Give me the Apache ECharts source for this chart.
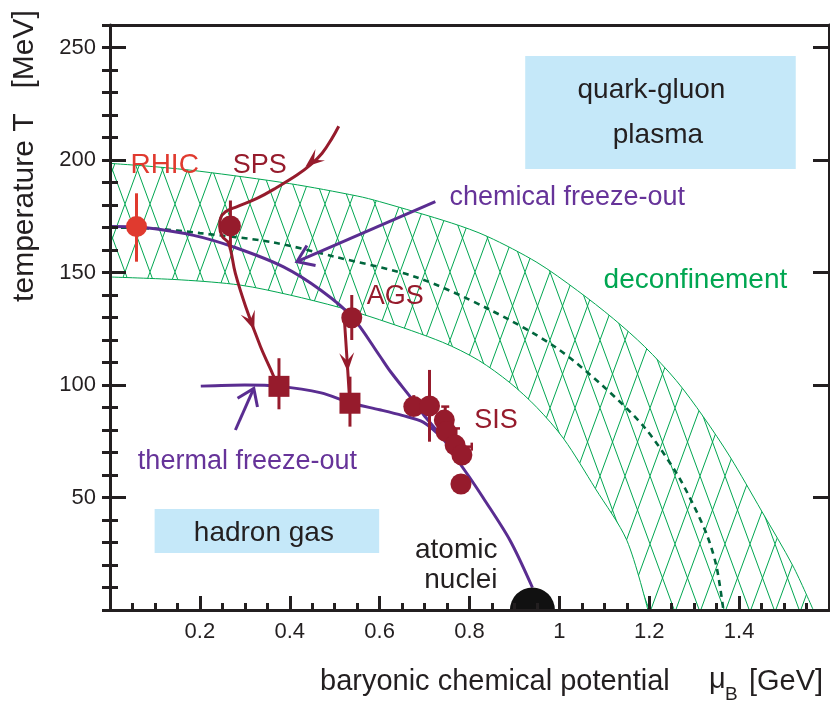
<!DOCTYPE html>
<html><head><meta charset="utf-8">
<script src="https://cdn.jsdelivr.net/npm/echarts@6/dist/echarts.min.js"></script>
<style>html,body{margin:0;padding:0;background:#fff}#c{width:830px;height:702px}</style>
</head><body><div id="c"></div>
<script>
// ---------------- data (mu_B in GeV, T in MeV) ----------------
const upperBoundary = [[0,198.5],[0.1,197],[0.2,195],[0.4,189.5],[0.55,184],[0.6,181.5],[0.76,172],[0.84,166],[0.95,154.5],[1.04,142],[1.12,129.5],[1.19,117],[1.26,102],[1.32,86],[1.38,68],[1.45,44],[1.52,19.5],[1.565,0]];
const lowerBoundary = [[0,148],[0.16,146.7],[0.29,144.4],[0.4,140],[0.51,134.5],[0.6,129],[0.74,119],[0.82,111],[0.89,101],[0.95,90],[1.01,76],[1.08,54],[1.15,31],[1.197,0]];
const deconfinementLine = [[0,170],[0.1,169.5],[0.2,167.5],[0.36,163.5],[0.5,157],[0.68,148],[0.84,134],[0.99,117],[1.1,99],[1.19,81],[1.26,61],[1.3,46],[1.33,32.5],[1.35,19],[1.365,0]];
const chemicalFreezeOut = [[0,170.5],[0.075,170],[0.186,166.5],[0.28,161],[0.386,152.5],[0.47,142],[0.54,130],[0.6,113],[0.624,106],[0.675,93],[0.697,87],[0.742,76],[0.772,67],[0.8,59],[0.83,50],[0.89,31],[0.94,10]];
const thermalFreezeOut = [[0.202,99.5],[0.3,100],[0.375,99.5],[0.47,96.5],[0.535,92],[0.6,89],[0.65,86.5],[0.697,83.5],[0.742,76]];
const spsTrajectory = [[0.509,215],[0.494,209.6],[0.472,203],[0.446,197.8],[0.416,193.3],[0.372,187.9],[0.327,182.9],[0.283,179.3],[0.257,177],[0.246,174.1],[0.244,170.4],[0.25,166],[0.264,163],[0.279,149.6],[0.302,134.8],[0.335,117],[0.358,106.7],[0.372,100]];
const agsTrajectory = [[0.5216,129],[0.5276,111],[0.533,94]];
const chemArrow = [[0.724,181.5],[0.416,154.8]];
const thermArrow = [[0.279,80],[0.32,98.5]];
// arrowheads: [tipMu, tipT, fromMu, fromT, kind]  kind 0 = filled (trajectory), 1 = open (label pointer)
const arrowHeads = [[0.435,197,0.472,203,0],[0.321,124.4,0.302,134.8,0],[0.529,105.9,0.524,125,0],[0.416,154.8,0.724,181.5,1],[0.32,98.5,0.279,80,1]];
const rhicPoint = [[0.059,170.4]];
const chemPoints = [[0.268,170.7],[0.538,129.9],[0.676,90.4],[0.711,90.7],[0.744,84.4],[0.748,79.3],[0.768,73.3],[0.783,68.9],[0.781,56]];
const thermalPoints = [[0.376,99.4],[0.534,91.9]];
const rhicErr = [[0.059,154.8,185.2]];
const errBars = [[0.268,160,182],[0.538,120,140],[0.376,89.2,111.9],[0.534,81.5,103.7],[0.711,74.8,106.7],[0.676,90.4,95.5],[0.746,84,90.4],[0.77,73,80.7]];
const errCaps = [[0.746,90.4],[0.77,80.7]];
const hErrBars = [[0.768,0.805,72.6]];
const nucleus = [[0.94,0]];
const regionBoxes = [[0.924,196,1.526,246.2],[0.0993,25.3,0.599,44.9]];
const labelTexts = ['RHIC','SPS','AGS','SIS','chemical freeze-out','thermal freeze-out','deconfinement','quark-gluon','plasma','hadron gas','atomic','nuclei'];
const labelAnchors = [[0.1216,197.7],[0.333,197.7],[0.635,139.2],[0.859,84.4],[1.0176,183.5],[0.3058,66.1],[1.3027,146.6],[1.2049,231],[1.2193,211],[0.3424,34.3],[0.8622,26.6],[0.8622,13.2]];
const xTickValues = [0.2,0.4,0.6,0.8,1,1.2,1.4];
const yTickValues = [50,100,150,200,250];

// ---------------- styles ----------------
const FONT = "'Liberation Sans', Arial, Helvetica, sans-serif";
const INK = '#231f20', DARKRED = '#961b2c', RED = '#e03a2f', PURPLE = '#5a2d91', PURPLE_TXT = '#663399', GREEN = '#00a651', DKGREEN = '#00663d', BLUE = '#c5e8f9';
const labelStyle = [
  [RED,28,'center'],[DARKRED,27,'center'],[DARKRED,27,'center'],[DARKRED,27,'center'],
  [PURPLE_TXT,27,'center'],[PURPLE_TXT,27,'center'],[GREEN,28,'center'],
  [INK,28,'center'],[INK,28,'center'],[INK,28,'center'],[INK,28,'right'],[INK,28,'right']];

function makeHatch(){
  const c = document.createElement('canvas'); c.width = 25; c.height = 68;
  const g = c.getContext('2d'); g.strokeStyle = GREEN; g.lineWidth = 1;
  g.beginPath(); g.moveTo(-25,-68); g.lineTo(50,136); g.moveTo(50,-68); g.lineTo(-25,136); g.stroke();
  return c;
}

const chart = echarts.init(document.getElementById('c'), null, {renderer:'canvas'});

function axisBase(extra){
  return Object.assign({type:'value', z:20, splitLine:{show:false},
    axisLine:{show:true, onZero:false, lineStyle:{color:INK, width:3}}}, extra);
}
const tickLine = {color:INK, width:3};

function lineSeries(data, color, width, z, extra){
  return Object.assign({type:'line', data:data, symbol:'none', showSymbol:false, smooth:0.3, silent:true,
    lineStyle:{color:color, width:width}, z:z, animation:false}, extra||{});
}

const option = {
  animation:false,
  grid:{left:110, top:25, right:1, bottom:92, outerBoundsMode:'none', containLabel:false},
  xAxis:[
    axisBase({position:'bottom', min:0, max:1.6, interval:0.2,
      axisTick:{show:true, inside:true, length:14, lineStyle:tickLine},
      minorTick:{show:true, splitNumber:4, length:7, lineStyle:tickLine},
      axisLabel:{show:true, margin:11, fontSize:22, fontFamily:FONT, color:INK,
        formatter:function(v){ const r=Math.round(v*10)/10; return xTickValues.indexOf(r)>=0 ? String(r) : ''; }}}),
    axisBase({position:'top', min:0, max:1.6, axisTick:{show:false}, axisLabel:{show:false}})
  ],
  yAxis:[
    axisBase({position:'left', min:0, max:260, interval:50,
      axisTick:{show:true, inside:true, length:16, lineStyle:tickLine},
      axisLabel:{show:true, margin:14, fontSize:22, fontFamily:FONT, color:INK,
        formatter:function(v){ return yTickValues.indexOf(Math.round(v))>=0 ? String(Math.round(v)) : ''; }}}),
    axisBase({position:'left', offset:0, min:0, max:260, interval:10, axisLine:{show:false},
      axisTick:{show:true, inside:true, length:8, lineStyle:tickLine}, axisLabel:{show:false}}),
    axisBase({position:'right', offset:0, min:0, max:260, interval:50,
      axisTick:{show:true, inside:true, length:16, lineStyle:tickLine}, axisLabel:{show:false}}),
    axisBase({position:'right', offset:0, min:0, max:260, interval:10, axisLine:{show:false},
      axisTick:{show:true, inside:true, length:8, lineStyle:tickLine}, axisLabel:{show:false}})
  ],
  graphic:[
    {type:'text', x:25, y:156, rotation:Math.PI/2, z:30,
      style:{text:'temperature T   [MeV]', font:'30px '+FONT, fill:INK, align:'center', verticalAlign:'middle'}},
    {type:'text', x:320, y:681.6, z:30,
      style:{text:'baryonic chemical potential', font:'29px '+FONT, fill:INK, align:'left', verticalAlign:'middle'}},
    {type:'text', x:709, y:680, z:30,
      style:{text:'\u03bc', font:'29px '+FONT, fill:INK, align:'left', verticalAlign:'middle'}},
    {type:'text', x:725, y:695, z:30,
      style:{text:'B', font:'19px '+FONT, fill:INK, align:'left', verticalAlign:'middle'}},
    {type:'text', x:749, y:681.6, z:30,
      style:{text:'[GeV]', font:'29px '+FONT, fill:INK, align:'left', verticalAlign:'middle'}}
  ],
  series:[
    // hatched deconfinement band: hatch down to axis from upper boundary, white mask below lower boundary
    lineSeries(upperBoundary, GREEN, 1, 2, {areaStyle:{color:{image:makeHatch(), repeat:'repeat'}, opacity:1}}),
    lineSeries(lowerBoundary, GREEN, 1, 3, {areaStyle:{color:'#ffffff', opacity:1}}),
    lineSeries(deconfinementLine, DKGREEN, 2.6, 4, {lineStyle:{color:DKGREEN, width:2.6, type:[6,5]}}),
    {type:'custom', z:5, silent:true, data:regionBoxes, renderItem:function(p, api){
      const a = api.coord([api.value(0), api.value(1)]), b = api.coord([api.value(2), api.value(3)]);
      return {type:'rect', shape:{x:a[0], y:b[1], width:b[0]-a[0], height:a[1]-b[1]}, style:{fill:BLUE}};
    }},
    {type:'custom', z:6, silent:true, data:labelAnchors.map(function(d,i){return [d[0],d[1],i];}), renderItem:function(p, api){
      const i = api.value(2), s = labelStyle[i], pt = api.coord([api.value(0), api.value(1)]);
      return {type:'text', x:pt[0], y:pt[1], style:{text:labelTexts[i], fill:s[0], font:s[1]+'px '+FONT, align:s[2], verticalAlign:'middle'}};
    }},
    lineSeries(chemicalFreezeOut, PURPLE, 3, 7),
    lineSeries(thermalFreezeOut, PURPLE, 3, 7),
    lineSeries(chemArrow, PURPLE, 3, 7, {smooth:false}),
    lineSeries(thermArrow, PURPLE, 3, 7, {smooth:false}),
    lineSeries(spsTrajectory, DARKRED, 3, 8, {smooth:0.4}),
    lineSeries(agsTrajectory, DARKRED, 3, 8, {smooth:false}),
    {type:'custom', z:9, silent:true, data:arrowHeads, renderItem:function(p, api){
      const tip = api.coord([api.value(0), api.value(1)]), fr = api.coord([api.value(2), api.value(3)]);
      let dx = tip[0]-fr[0], dy = tip[1]-fr[1]; const L = Math.hypot(dx,dy); dx/=L; dy/=L;
      const nx = -dy, ny = dx;
      if (api.value(4) === 0) {
        const len = 19, w = 7.5, notch = 11;
        return {type:'polygon', shape:{points:[[tip[0],tip[1]],
          [tip[0]-len*dx+w*nx, tip[1]-len*dy+w*ny],
          [tip[0]-notch*dx, tip[1]-notch*dy],
          [tip[0]-len*dx-w*nx, tip[1]-len*dy-w*ny]]}, style:{fill:DARKRED, stroke:null}};
      }
      const bl = 19, ang = 35*Math.PI/180, bx = -dx, by = -dy;
      const r1 = [bx*Math.cos(ang)-by*Math.sin(ang), bx*Math.sin(ang)+by*Math.cos(ang)];
      const r2 = [bx*Math.cos(-ang)-by*Math.sin(-ang), bx*Math.sin(-ang)+by*Math.cos(-ang)];
      return {type:'polyline', shape:{points:[[tip[0]+bl*r1[0], tip[1]+bl*r1[1]],[tip[0],tip[1]],[tip[0]+bl*r2[0], tip[1]+bl*r2[1]]]},
        style:{stroke:PURPLE, lineWidth:3, fill:null, lineJoin:'miter'}};
    }},
    {type:'custom', z:10, silent:true, data:rhicErr, renderItem:function(p, api){
      const a = api.coord([api.value(0), api.value(1)]), b = api.coord([api.value(0), api.value(2)]);
      return {type:'line', shape:{x1:a[0], y1:a[1], x2:b[0], y2:b[1]}, style:{stroke:RED, lineWidth:3}};
    }},
    {type:'custom', z:10, silent:true, data:errBars, renderItem:function(p, api){
      const a = api.coord([api.value(0), api.value(1)]), b = api.coord([api.value(0), api.value(2)]);
      return {type:'line', shape:{x1:a[0], y1:a[1], x2:b[0], y2:b[1]}, style:{stroke:DARKRED, lineWidth:3}};
    }},
    {type:'custom', z:10, silent:true, data:errCaps, renderItem:function(p, api){
      const a = api.coord([api.value(0), api.value(1)]);
      return {type:'line', shape:{x1:a[0]-4, y1:a[1], x2:a[0]+4, y2:a[1]}, style:{stroke:DARKRED, lineWidth:2.5}};
    }},
    {type:'custom', z:10, silent:true, data:hErrBars, renderItem:function(p, api){
      const a = api.coord([api.value(0), api.value(2)]), b = api.coord([api.value(1), api.value(2)]);
      return {type:'group', children:[
        {type:'line', shape:{x1:a[0], y1:a[1], x2:b[0], y2:b[1]}, style:{stroke:DARKRED, lineWidth:2.5}},
        {type:'line', shape:{x1:b[0], y1:b[1]-4, x2:b[0], y2:b[1]+4}, style:{stroke:DARKRED, lineWidth:2.5}}]};
    }},
    {type:'scatter', z:11, silent:true, data:rhicPoint, symbol:'circle', symbolSize:21, itemStyle:{color:RED, opacity:1}, animation:false},
    {type:'scatter', z:11, silent:true, data:chemPoints, symbol:'circle', symbolSize:21, itemStyle:{color:DARKRED, opacity:1}, animation:false},
    {type:'scatter', z:11, silent:true, data:thermalPoints, symbol:'rect', symbolSize:21, itemStyle:{color:DARKRED, opacity:1}, animation:false},
    {type:'custom', z:11, silent:true, data:nucleus, renderItem:function(p, api){
      const c = api.coord([api.value(0), api.value(1)]);
      return {type:'sector', shape:{cx:c[0], cy:c[1], r0:0, r:22.5, startAngle:Math.PI, endAngle:2*Math.PI, clockwise:true}, style:{fill:'#111'}};
    }}
  ]
};
chart.setOption(option);
</script>
</body></html>
